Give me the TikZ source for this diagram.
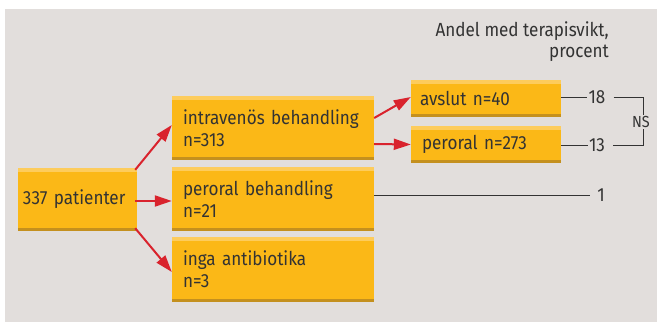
\documentclass[tikz,border=0pt]{standalone}
\usepackage{fontspec}
\setmainfont{Fira Sans}[FakeStretch=0.9]
\usetikzlibrary{arrows.meta,calc}
\definecolor{bg}{HTML}{E2DEDC}
\definecolor{boxy}{HTML}{FBB817}
\definecolor{boxlt}{HTML}{FDCC5C}
\definecolor{boxdk}{HTML}{C4901E}
\definecolor{arr}{HTML}{D9232D}
\definecolor{txt}{HTML}{333333}
\tikzset{
  box/.style={fill=boxy, inner ysep=0pt, anchor=center, align=left, text=txt,
    font=\fontsize{19}{22}\selectfont,
    path picture={
      \fill[boxlt] (path picture bounding box.north west) rectangle ([yshift=-3.5pt]path picture bounding box.north east);
      \fill[boxdk] (path picture bounding box.south west) rectangle ([yshift=3.5pt]path picture bounding box.south east);
    }},
  redarrow/.style={draw=arr, line width=2pt, -{Triangle[length=17pt,width=11pt]}},
  blk/.style={draw=txt, line width=1pt},
  num/.style={text=txt, font=\fontsize{19}{22}\selectfont, inner sep=1pt}
}
\begin{document}
\begin{tikzpicture}[x=1pt,y=-1pt]
\useasboundingbox (0,0) rectangle (657,322);
\fill[bg] (5,9) rectangle (657,322);
% header
\node[anchor=east, align=right, text=txt, font=\fontsize{19}{21}\selectfont, inner sep=0pt] (hdr) at (609,41.5) {Andel med terapisvikt,\\procent};
% boxes
\node[box, minimum width=119pt, minimum height=63pt, text width=109pt, inner xsep=5pt] (pat) at (77.5,199.5) {337 patienter};
\node[box, minimum width=202pt, minimum height=64pt, text width=180pt, inner xsep=11pt] (iv) at (273,128) {intravenös behandling\\n=313};
\node[box, minimum width=202pt, minimum height=64pt, text width=180pt, inner xsep=11pt] (pb) at (273,199) {peroral behandling\\n=21};
\node[box, minimum width=202pt, minimum height=65pt, text width=180pt, inner xsep=11pt] (ia) at (273,269.5) {inga antibiotika\\n=3};
\node[box, minimum width=150pt, minimum height=37pt, text width=132pt, inner xsep=9pt] (av) at (486,98.5) {avslut n=40};
\node[box, minimum width=150pt, minimum height=37pt, text width=130pt, inner xsep=10pt] (po) at (486,144.5) {\hspace*{1pt}peroral n=273};
% arrows
\draw[redarrow] ($(pat.north east)+(-2,2)$) -- ($(iv.west)+(0,-3)$);
\draw[redarrow] ($(pat.east)+(-2,1.5)$) -- ($(pb.west)+(0,2)$);
\draw[redarrow] ($(pat.south east)+(-2,-3)$) -- ($(ia.west)+(0,2.5)$);
\draw[redarrow] ($(iv.east)+(0,-10)$) -- ($(av.west)+(0,-1.5)$);
\draw[redarrow] ($(iv.east)+(0,16)$) -- (po.west);
% outcome numbers
\node[num] (n18) at (597,97) {18};
\node[num] (n13) at (597,145) {13};
\node[num] (n1) at (601,195) {1};
\draw[blk] (av.east |- n18) -- (n18.west);
\draw[blk] (po.east |- n13) -- (n13.west);
\draw[blk] (pb.east |- n1) -- ([xshift=-6pt]n1.west);
\coordinate (b1) at ($(n18.east)+(7,0)$);
\coordinate (b2) at ($(n13.east)+(7,0)$);
\coordinate (b3) at (643,97);
\coordinate (b4) at (643,145);
\draw[blk] (b1) -- (b3) -- (b4) -- (b2);
\node[fill=bg, text=txt, font=\fontsize{16}{18}\selectfont, inner sep=1pt] (ns) at (641,122) {NS};
\end{tikzpicture}
\end{document}
